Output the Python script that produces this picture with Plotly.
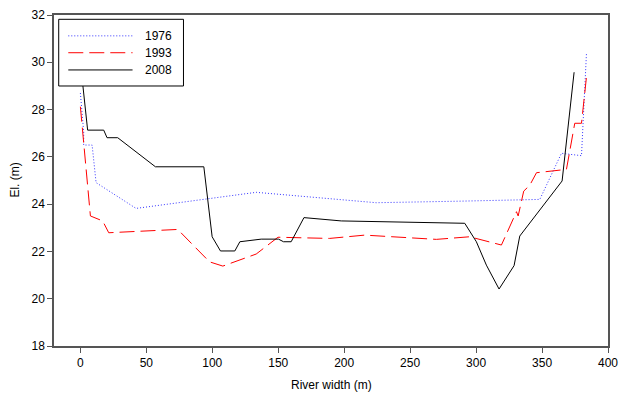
import plotly.graph_objects as go

# 1976 survey
x1976 = [0, 2.5, 2.5, 8.9, 11.9, 42.2, 133.3, 224.3, 291.4, 348.3, 364.7, 379.9, 383.7]
y1976 = [28.7, 27.06, 26.5, 26.5, 24.91, 23.82, 24.5, 24.06, 24.13, 24.2, 26.15, 26.05, 30.41]

# 1993 survey
x1993 = [0, 7.6, 16.9, 21.5, 73.8, 97.9, 108, 133.3, 149.8, 189, 215.5, 269.9, 295.1,
         319.2, 330.6, 331.9, 336.1, 340.7, 345.8, 368.5, 374.8, 379.9, 383.7]
y1993 = [28.12, 23.5, 23.29, 22.79, 22.93, 21.56, 21.38, 21.89, 22.6, 22.55, 22.69, 22.51, 22.62,
         22.27, 23.68, 23.5, 24.55, 24.8, 25.33, 25.47, 27.42, 27.42, 29.39]

# 2008 survey
x2008 = [0, 5.5, 17.7, 20.2, 28.3, 56.9, 93.6, 99.9, 106.2, 117.1, 120.9, 137.1, 150.2, 154,
         159.8, 169.5, 197.8, 291.4, 300.2, 307.8, 317.4, 328.8, 333.1, 365.2, 374.3]
y2008 = [30.0, 27.13, 27.13, 26.81, 26.81, 25.58, 25.58, 22.62, 22.02, 22.02, 22.41, 22.52, 22.52, 22.41,
         22.41, 23.43, 23.29, 23.19, 22.41, 21.42, 20.41, 21.4, 22.65, 24.98, 29.58]

series_names = ["1976", "1993", "2008"]
series_colors = ["#3333ff", "#ff0000", "#000000"]
series_dash = ["1px,2px", "15px,6px", "solid"]

fig = go.Figure()
for xs, ys, name, c, d in zip([x1976, x1993, x2008], [y1976, y1993, y2008],
                              series_names, series_colors, series_dash):
    fig.add_trace(go.Scatter(x=xs, y=ys, mode="lines", name=name,
                             line=dict(color=c, width=1, dash=d), showlegend=False))

FONT = "Liberation Sans, Arial"
axis_common = dict(showgrid=False, zeroline=False, showline=True, linecolor="#555555",
                   linewidth=1.5, mirror=True, ticks="outside", ticklen=5, tickwidth=1,
                   tickcolor="#555555", automargin=False,
                   tickfont=dict(family=FONT, size=12, color="#000"))

fig.update_xaxes(range=[-20, 400], tickvals=[0, 50, 100, 150, 200, 250, 300, 350, 400],
                 **axis_common)
fig.update_yaxes(range=[18, 32], tickvals=[18, 20, 22, 24, 26, 28, 30, 32],
                 **axis_common)

# manual legend (box, samples, labels) and axis titles
shapes = [dict(type="rect", xref="paper", yref="paper", x0=0.0085, x1=0.2337, y0=0.7855, y1=0.987,
               line=dict(color="#000", width=1), fillcolor="white", layer="above")]
annotations = [
    dict(xref="paper", yref="paper", x=0.5, y=-39 / 331, text="River width (m)", showarrow=False,
         xanchor="center", yanchor="middle", font=dict(family=FONT, size=12, color="#000")),
    dict(xref="paper", yref="paper", x=-40 / 555, y=0.5, text="El. (m)", showarrow=False, textangle=-90,
         xanchor="center", yanchor="middle", font=dict(family=FONT, size=12, color="#000")),
]
rows_y = [0.937, 0.886, 0.834]
for ry, name, c, d in zip(rows_y, series_names, series_colors, series_dash):
    shapes.append(dict(type="line", xref="paper", yref="paper", x0=0.0258, x1=0.1418, y0=ry, y1=ry,
                       line=dict(color=c, width=1, dash=d), layer="above"))
    annotations.append(dict(xref="paper", yref="paper", x=0.216, y=ry, text=name, showarrow=False,
                            xanchor="right", yanchor="middle",
                            font=dict(family=FONT, size=12, color="#000")))

fig.update_layout(width=626, height=396, margin=dict(l=54, r=18, t=15, b=50),
                  plot_bgcolor="white", paper_bgcolor="white",
                  shapes=shapes, annotations=annotations)

fig.write_html("out.html")
